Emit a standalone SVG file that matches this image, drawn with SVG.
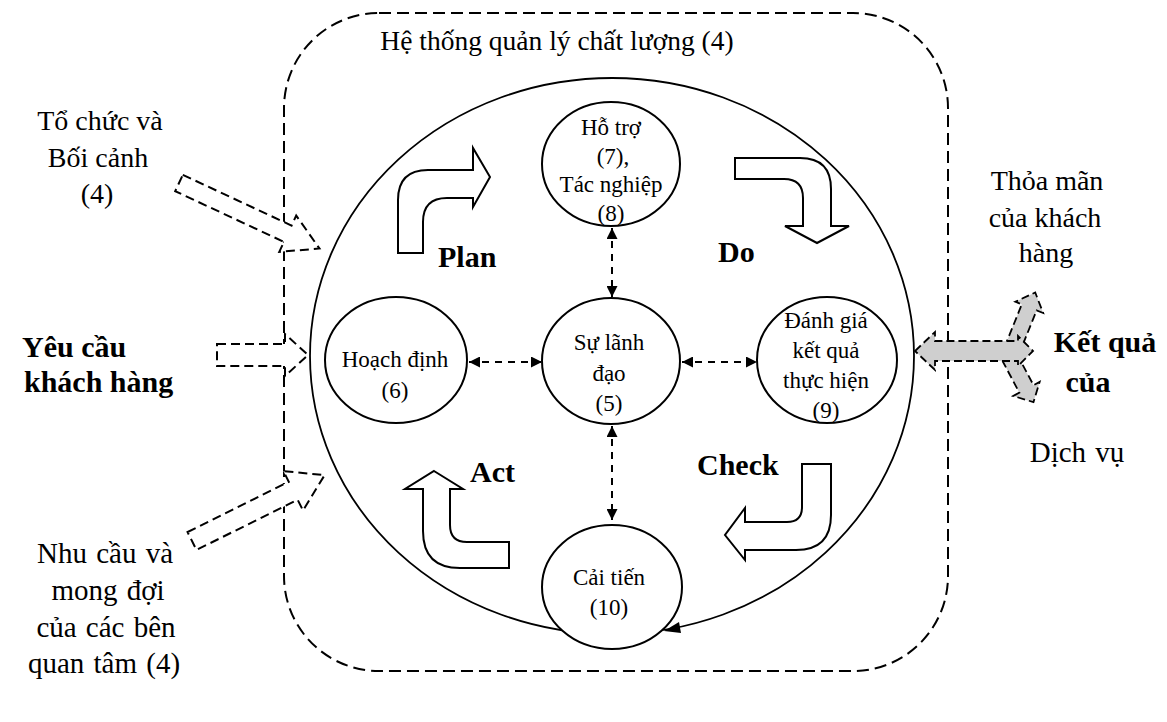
<svg xmlns="http://www.w3.org/2000/svg" width="1167" height="722" viewBox="0 0 1167 722">
<defs>
<style>
.t{font-family:"Liberation Serif","Times New Roman",serif;fill:#000}
.side{font-size:28px}
.node{font-size:23px}
.b{font-weight:bold;font-size:30px}
.circ{fill:#fff;stroke:#000;stroke-width:2}
.blk{fill:#fff;stroke:#000;stroke-width:2}
.din{fill:#fff;stroke:#000;stroke-width:2;stroke-dasharray:9 5}
.gray{fill:#cfcfcf;stroke:#000;stroke-width:1.8;stroke-dasharray:8 4}
.conn{fill:none;stroke:#000;stroke-width:2;stroke-dasharray:7 6;marker-start:url(#ah);marker-end:url(#ah)}
</style>
<marker id="ah" viewBox="0 0 10 10" refX="10" refY="5" markerWidth="13" markerHeight="11" markerUnits="userSpaceOnUse" orient="auto-start-reverse">
<path d="M0,0 L10,5 L0,10 Z" fill="#000"/>
</marker>
</defs>
<rect width="1167" height="722" fill="#fff"/>

<g id="system">
<rect x="284" y="13" width="664" height="658" rx="95" ry="95" fill="none" stroke="#000" stroke-width="2" stroke-dasharray="12 6"/>
<text class="t" x="557" y="50" text-anchor="middle" font-size="27.5">Hệ thống quản lý chất lượng (4)</text>
</g>

<g id="cycle">
<ellipse cx="612" cy="356" rx="302" ry="278" fill="none" stroke="#000" stroke-width="1.8"/>
</g>

<g id="inputs">
<path class="din" transform="translate(179,183) rotate(25)" d="M0,-9 L120,-9 L120,-20 L155,0 L120,20 L120,9 L0,9 Z"/>
<path class="din" d="M217,344 L285,344 L285,334 L308,355 L285,376 L285,366 L217,366 Z"/>
<path class="din" transform="translate(192,541) rotate(-26.4)" d="M0,-10 L113,-10 L113,-22 L148,0 L113,22 L113,10 L0,10 Z"/>
</g>

<g id="outputs">
<path class="gray" transform="translate(1012,350) rotate(-68)" d="M0,-8 L46,-8 L46,-15 L62,0 L46,15 L46,8 L0,8 Z"/>
<path class="gray" transform="translate(1010,358) rotate(62)" d="M0,-8 L35,-8 L35,-15 L50,0 L35,15 L35,8 L0,8 Z"/>
<path class="gray" d="M915,351 L935,332 L935,341 L1018,341 L1018,336 L1033,351 L1018,366 L1018,361 L935,361 L935,370 Z"/>
</g>

<g id="pdca">
<path class="blk" d="M398,253 L398,200 Q398,170 428,170 L473,170 L473,148 L490,177 L473,207 L473,198 L447,198 Q423,198 423,222 L423,253 Z"/>
<path class="blk" d="M735,158 L800,158 Q831,158 831,189 L831,226 L849,226 L817,243 L785,226 L803,226 L803,198 Q803,179 784,179 L735,179 Z"/>
<path class="blk" d="M802,464 L831,464 L831,515 Q831,550 796,550 L745,550 L745,560 L725,535 L745,508 L745,522 L787,522 Q802,522 802,507 Z"/>
<path class="blk" d="M434,471 L463,489 L450,489 L450,525 Q450,542 467,542 L509,542 L509,568 L460,568 Q423,568 423,531 L423,489 L405,489 Z"/>
<text class="t b" x="438" y="267">Plan</text>
<text class="t b" x="718" y="262">Do</text>
<text class="t b" x="697" y="475">Check</text>
<text class="t b" x="470" y="482">Act</text>
</g>

<g id="connectors">
<line class="conn" x1="612" y1="228" x2="612" y2="297"/>
<line class="conn" x1="469" y1="362" x2="542" y2="362"/>
<line class="conn" x1="682" y1="362" x2="757" y2="362"/>
<line class="conn" x1="612" y1="426" x2="612" y2="520"/>
</g>

<g id="node-ho-tro">
<ellipse class="circ" cx="611" cy="164" rx="69" ry="62"/>
<text class="t node" text-anchor="middle" x="611" y="135">Hỗ trợ</text>
<text class="t node" text-anchor="middle" x="613" y="164">(7),</text>
<text class="t node" text-anchor="middle" x="611" y="192">Tác nghiệp</text>
<text class="t node" text-anchor="middle" x="611" y="221">(8)</text>
</g>

<g id="node-lanh-dao">
<ellipse class="circ" cx="611" cy="361" rx="69" ry="63"/>
<text class="t node" text-anchor="middle" x="609" y="350">Sự lãnh</text>
<text class="t node" text-anchor="middle" x="609" y="381">đạo</text>
<text class="t node" text-anchor="middle" x="609" y="411">(5)</text>
</g>

<g id="node-hoach-dinh">
<ellipse class="circ" cx="396" cy="360" rx="71" ry="63"/>
<text class="t node" text-anchor="middle" x="395" y="367">Hoạch định</text>
<text class="t node" text-anchor="middle" x="395" y="398">(6)</text>
</g>

<g id="node-danh-gia">
<ellipse class="circ" cx="827" cy="360" rx="70" ry="63"/>
<text class="t node" text-anchor="middle" x="826" y="328">Đánh giá</text>
<text class="t node" text-anchor="middle" x="826" y="358">kết quả</text>
<text class="t node" text-anchor="middle" x="826" y="388">thực hiện</text>
<text class="t node" text-anchor="middle" x="826" y="418">(9)</text>
</g>

<g id="node-cai-tien">
<ellipse class="circ" cx="612" cy="587" rx="70" ry="62"/>
<text class="t node" text-anchor="middle" x="609" y="585">Cải tiến</text>
<text class="t node" text-anchor="middle" x="609" y="615">(10)</text>
<polygon points="664,631 679,622 681,633" fill="#000"/>
</g>

<g id="label-to-chuc">
<text class="t side" text-anchor="middle" x="100" y="130">Tổ chức và</text>
<text class="t side" text-anchor="middle" x="98" y="167">Bối cảnh</text>
<text class="t side" text-anchor="middle" x="97" y="203">(4)</text>
</g>

<g id="label-yeu-cau">
<text class="t b" x="22" y="357">Yêu cầu</text>
<text class="t b" x="24" y="392">khách hàng</text>
</g>

<g id="label-nhu-cau">
<text class="t" font-size="29" word-spacing="2" text-anchor="middle" x="105" y="563">Nhu cầu và</text>
<text class="t" font-size="29" word-spacing="2" text-anchor="middle" x="108" y="600">mong đợi</text>
<text class="t" font-size="29" word-spacing="2" text-anchor="middle" x="106" y="637">của các bên</text>
<text class="t" font-size="29" word-spacing="2" text-anchor="middle" x="104" y="673">quan tâm (4)</text>
</g>

<g id="label-thoa-man">
<text class="t side" text-anchor="middle" x="1047" y="190">Thỏa mãn</text>
<text class="t side" text-anchor="middle" x="1045" y="227">của khách</text>
<text class="t side" text-anchor="middle" x="1046" y="262">hàng</text>
</g>

<g id="label-ket-qua">
<text class="t b" text-anchor="middle" x="1105" y="352">Kết quả</text>
<text class="t b" text-anchor="middle" x="1088" y="392">của</text>
<text class="t" font-size="29" text-anchor="middle" x="1077" y="462" word-spacing="2">Dịch vụ</text>
</g>
</svg>
